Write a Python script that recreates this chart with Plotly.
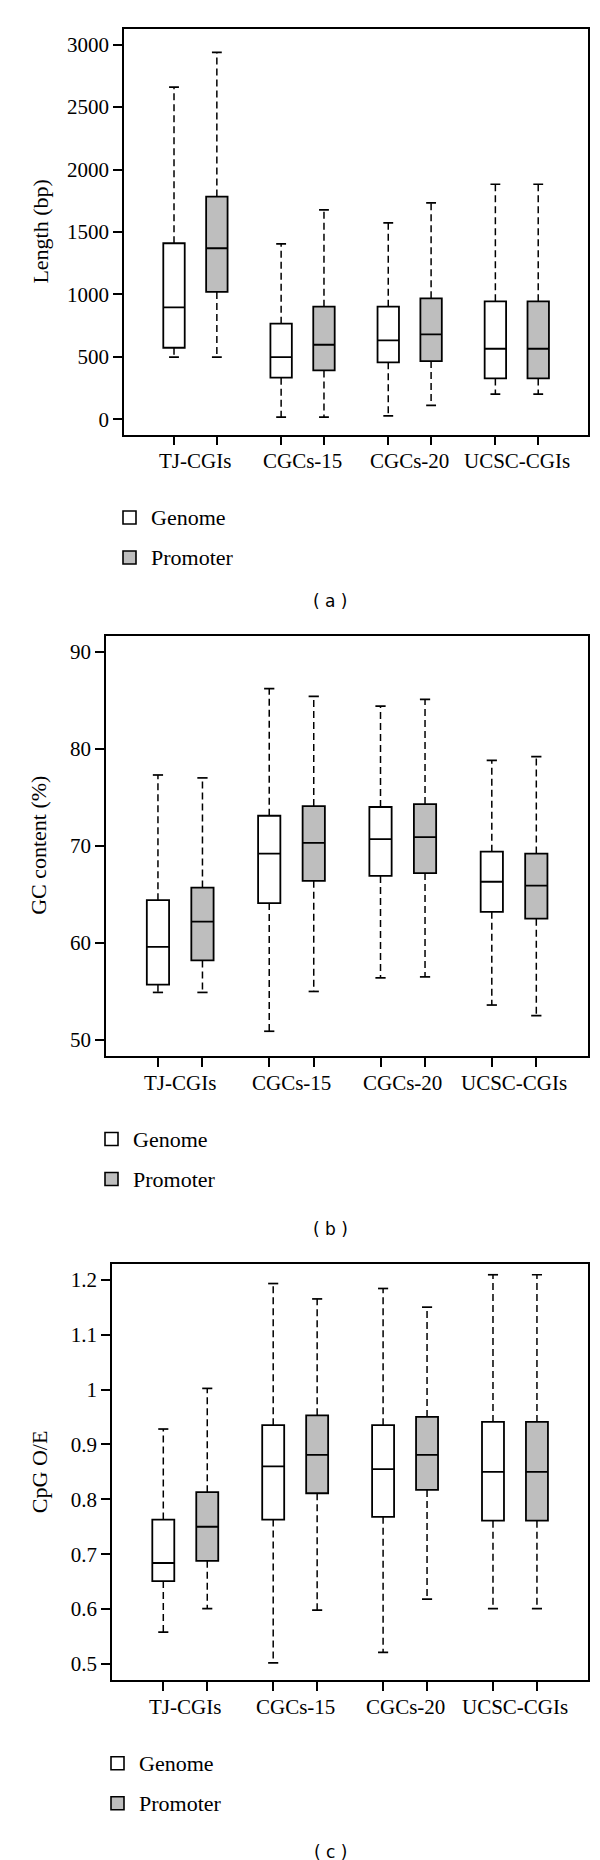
import plotly.graph_objects as go

# ---------------- data ----------------
categories = ["TJ-CGIs", "CGCs-15", "CGCs-20", "UCSC-CGIs"]
series_names = ["Genome", "Promoter"]

# Panel (a) Length (bp)
len_gen_low = [497, 16, 27, 200]
len_gen_q1 = [572, 332, 455, 326]
len_gen_med = [896, 497, 631, 564]
len_gen_q3 = [1409, 765, 901, 944]
len_gen_up = [2660, 1404, 1572, 1882]
len_pro_low = [497, 16, 110, 200]
len_pro_q1 = [1019, 390, 465, 326]
len_pro_med = [1369, 596, 679, 564]
len_pro_q3 = [1783, 901, 968, 944]
len_pro_up = [2939, 1676, 1733, 1882]
len_ticks = [0, 500, 1000, 1500, 2000, 2500, 3000]

# Panel (b) GC content (%)
gc_gen_low = [54.9, 50.9, 56.4, 53.6]
gc_gen_q1 = [55.7, 64.1, 66.9, 63.2]
gc_gen_med = [59.6, 69.2, 70.7, 66.3]
gc_gen_q3 = [64.4, 73.1, 74.0, 69.4]
gc_gen_up = [77.3, 86.2, 84.4, 78.8]
gc_pro_low = [54.9, 55.0, 56.5, 52.5]
gc_pro_q1 = [58.2, 66.4, 67.2, 62.5]
gc_pro_med = [62.2, 70.3, 70.9, 65.9]
gc_pro_q3 = [65.7, 74.1, 74.3, 69.2]
gc_pro_up = [77.0, 85.4, 85.1, 79.2]
gc_ticks = [50, 60, 70, 80, 90]

# Panel (c) CpG O/E
oe_gen_low = [0.558, 0.502, 0.521, 0.601]
oe_gen_q1 = [0.651, 0.763, 0.768, 0.761]
oe_gen_med = [0.684, 0.860, 0.855, 0.850]
oe_gen_q3 = [0.763, 0.935, 0.935, 0.941]
oe_gen_up = [0.928, 1.193, 1.184, 1.209]
oe_pro_low = [0.601, 0.598, 0.618, 0.601]
oe_pro_q1 = [0.688, 0.811, 0.817, 0.761]
oe_pro_med = [0.750, 0.881, 0.881, 0.850]
oe_pro_q3 = [0.813, 0.953, 0.950, 0.941]
oe_pro_up = [1.002, 1.165, 1.150, 1.209]
oe_ticks = [0.5, 0.6, 0.7, 0.8, 0.9, 1.0, 1.1, 1.2]
oe_ticktext = ["0.5", "0.6", "0.7", "0.8", "0.9", "1", "1.1", "1.2"]

# ---------------- layout constants ----------------
W, H = 600, 1860
pos_gen = [1, 3.5, 6, 8.5]
pos_pro = [2, 4.5, 7, 9.5]
pos_cat = [(a + b) / 2 for a, b in zip(pos_gen, pos_pro)]
XR = [-0.167, 10.65]
BOXW = 0.5
CAPW = 0.115
SERIF = "Liberation Serif"
FILLS = ["white", "#bebebe"]

def px_x(p):
    return p / W

def px_y(p):
    return 1 - p / H

panels = [
    dict(left=116, right=579.5, top=20.7, bottom=426.5, rng=[-123, 3128], tickvals=len_ticks,
         ticktext=[str(t) for t in len_ticks], title="Length (bp)", title_x=33, label="( a )", label_y=593,
         gen=(len_gen_low, len_gen_q1, len_gen_med, len_gen_q3, len_gen_up),
         pro=(len_pro_low, len_pro_q1, len_pro_med, len_pro_q3, len_pro_up)),
    dict(left=98, right=579.5, top=627.7, bottom=1048, rng=[48.35, 91.65], tickvals=gc_ticks,
         ticktext=[str(t) for t in gc_ticks], title="GC content (%)", title_x=31, label="( b )", label_y=1221,
         gen=(gc_gen_low, gc_gen_q1, gc_gen_med, gc_gen_q3, gc_gen_up),
         pro=(gc_pro_low, gc_pro_q1, gc_pro_med, gc_pro_q3, gc_pro_up)),
    dict(left=104, right=579.5, top=1256, bottom=1672.3, rng=[0.4703, 1.2286], tickvals=oe_ticks,
         ticktext=oe_ticktext, title="CpG O/E", title_x=31, label="( c )", label_y=1844,
         gen=(oe_gen_low, oe_gen_q1, oe_gen_med, oe_gen_q3, oe_gen_up),
         pro=(oe_pro_low, oe_pro_q1, oe_pro_med, oe_pro_q3, oe_pro_up)),
]

fig = go.Figure()
annotations = []
shapes = []
layout_axes = {}

for i, P in enumerate(panels):
    n = "" if i == 0 else str(i + 1)
    xa, ya = "x" + n, "y" + n
    for s, (stats, pos) in enumerate([(P["gen"], pos_gen), (P["pro"], pos_pro)]):
        low, q1, med, q3, up = stats
        fig.add_trace(go.Box(
            x=pos, q1=q1, median=med, q3=q3, lowerfence=q1, upperfence=q3,
            width=BOXW, fillcolor=FILLS[s], line=dict(color="black", width=1.8),
            boxpoints=False, whiskerwidth=0, showlegend=False, name=series_names[s],
            xaxis=xa, yaxis=ya, hoverinfo="skip"))
        wx, wy, cx, cy = [], [], [], []
        for p, lo, a, b, hi in zip(pos, low, q1, q3, up):
            wx += [p, p, None, p, p, None]
            wy += [b, hi, None, a, lo, None]
            cx += [p - CAPW, p + CAPW, None, p - CAPW, p + CAPW, None]
            cy += [hi, hi, None, lo, lo, None]
        fig.add_trace(go.Scatter(x=wx, y=wy, mode="lines", line=dict(color="black", width=1.5, dash="7px,4px"),
                                 showlegend=False, xaxis=xa, yaxis=ya, hoverinfo="skip"))
        fig.add_trace(go.Scatter(x=cx, y=cy, mode="lines", line=dict(color="black", width=1.7),
                                 showlegend=False, xaxis=xa, yaxis=ya, hoverinfo="skip"))

    layout_axes["xaxis" + n] = dict(
        domain=[px_x(P["left"]), px_x(P["right"])], range=XR, anchor=ya,
        showline=True, mirror=True, linecolor="black", linewidth=1.7,
        ticks="outside", ticklen=9, tickwidth=1.5, tickcolor="black",
        tickvals=pos_gen + pos_pro, showticklabels=False, showgrid=False, zeroline=False,
        automargin=False)
    layout_axes["yaxis" + n] = dict(
        domain=[px_y(P["bottom"]), px_y(P["top"])], range=P["rng"], anchor=xa,
        showline=True, mirror=True, linecolor="black", linewidth=1.7,
        ticks="outside", ticklen=9, tickwidth=1.5, tickcolor="black",
        tickvals=P["tickvals"], ticktext=P["ticktext"],
        tickfont=dict(family=SERIF, size=21, color="black"),
        showgrid=False, zeroline=False, automargin=False)

    # category labels
    for c, cp in zip(categories, pos_cat):
        annotations.append(dict(x=cp, xref=xa, y=px_y(P["bottom"] + 27), yref="paper", text=c,
                                showarrow=False, font=dict(family=SERIF, size=21, color="black"),
                                xanchor="center", yanchor="middle"))
    # y title
    annotations.append(dict(x=px_x(P["title_x"]), xref="paper", y=px_y((P["top"] + P["bottom"]) / 2),
                            yref="paper", text=P["title"], textangle=-90, showarrow=False,
                            font=dict(family=SERIF, size=22, color="black"),
                            xanchor="center", yanchor="middle"))
    # legend
    for s in range(2):
        cy = P["bottom"] + (83 if s == 0 else 123)
        x0 = P["left"] - 1
        shapes.append(dict(type="rect", xref="paper", yref="paper",
                           x0=px_x(x0), x1=px_x(x0 + 13), y0=px_y(cy + 6.5), y1=px_y(cy - 6.5),
                           fillcolor=FILLS[s], line=dict(color="black", width=1.6)))
        annotations.append(dict(x=px_x(x0 + 26), xref="paper", y=px_y(cy), yref="paper",
                                text=series_names[s], showarrow=False,
                                font=dict(family=SERIF, size=22, color="black"),
                                xanchor="left", yanchor="middle"))
    # panel label
    annotations.append(dict(x=px_x(322), xref="paper", y=px_y(P["label_y"]), yref="paper", text=P["label"],
                            showarrow=False, font=dict(family="DejaVu Sans", size=17, color="black"),
                            xanchor="center", yanchor="middle"))

fig.update_layout(
    width=W, height=H, margin=dict(l=0, r=0, t=0, b=0),
    paper_bgcolor="white", plot_bgcolor="white", boxmode="overlay",
    showlegend=False, annotations=annotations, shapes=shapes, **layout_axes)

fig.write_html("out.html")
